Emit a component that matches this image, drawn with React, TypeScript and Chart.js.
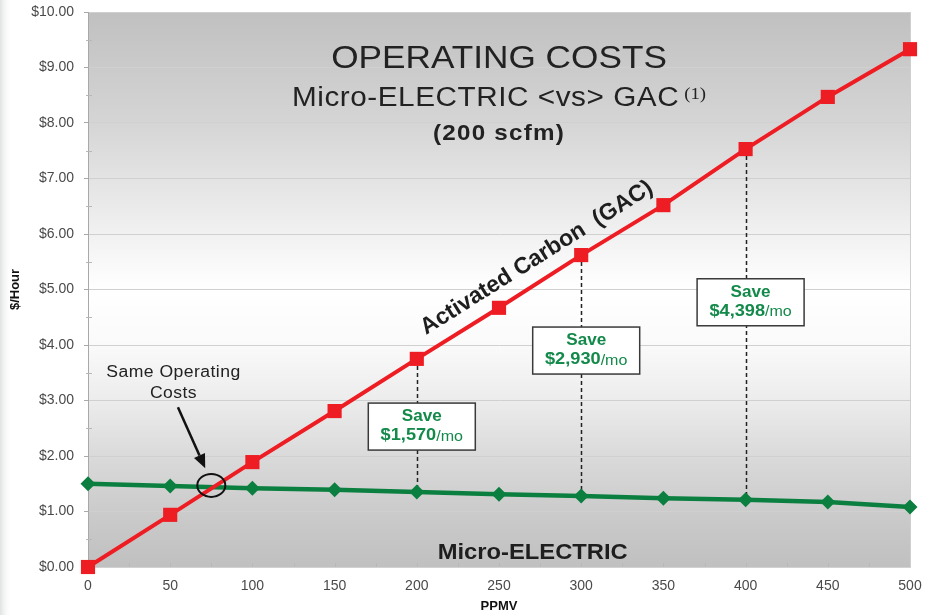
import { useEffect, useRef } from "react";
import { Chart, registerables } from "chart.js";

Chart.register(...registerables);

// ---- data ----
const ppmv = [0, 50, 100, 150, 200, 250, 300, 350, 400, 450, 500];
const gacCost = [0, 0.94, 1.89, 2.81, 3.75, 4.67, 5.62, 6.52, 7.53, 8.47, 9.33];
const microCost = [1.5, 1.46, 1.42, 1.39, 1.35, 1.31, 1.28, 1.24, 1.21, 1.17, 1.08];

const savePpmv = [200, 300, 400];
const saveAmounts = ["$1,570", "$2,930", "$4,398"];
const saveBoxLevels = [2.53, 3.9, 4.77];

const titleMain = "OPERATING COSTS";
const titleSub = "Micro-ELECTRIC <vs> GAC";
const titleNote = "(1)";
const titleFlow = "(200 scfm)";
const gacLabel = "Activated Carbon  (GAC)";
const microLabel = "Micro-ELECTRIC";
const sameLabel = ["Same Operating", "Costs"];
const yTitle = "$/Hour";
const xTitle = "PPMV";

// annotation anchors (data space)
const sameCostPoint = { x: 75, y: 1.47 };
const sameLabelAnchor = { x: 52, y: 3.51 };
const arrowFrom = { x: 54.7, y: 2.88 };
const arrowTo = { x: 71.3, y: 1.78 };
const gacLabelAnchor = { x: 273, y: 5.57 };
const microLabelAnchor = { x: 270.5, y: 0.25 };

const FONT = '"Liberation Sans", Arial, Helvetica, sans-serif';
const RED = "#ee1d23";
const GREEN = "#0b7f3f";
const TEXT_GREEN = "#13894a";
const STRETCH = 1.1;

function stretchedText(ctx: any, text: string, x: number, y: number, align: string, sx = STRETCH) {
  ctx.save();
  ctx.translate(x, y);
  ctx.scale(sx, 1);
  ctx.textAlign = align;
  ctx.fillText(text, 0, 0);
  ctx.restore();
}

const decorPlugin = {
  id: "decor",
  beforeDraw(chart: any) {
    const { ctx, chartArea: a, width, height } = chart;
    ctx.save();
    ctx.fillStyle = "#ffffff";
    ctx.fillRect(0, 0, width, height);
    const lg = ctx.createLinearGradient(0, 0, 12, 0);
    lg.addColorStop(0, "#e0e3e3");
    lg.addColorStop(1, "rgba(255,255,255,0)");
    ctx.fillStyle = lg;
    ctx.fillRect(0, 0, 12, height);
    const g = ctx.createLinearGradient(0, a.top, 0, a.bottom);
    g.addColorStop(0, "#c0c0c0");
    g.addColorStop(0.2, "#d5d5d5");
    g.addColorStop(0.3, "#e3e3e3");
    g.addColorStop(0.5, "#ffffff");
    g.addColorStop(0.6, "#fafafa");
    g.addColorStop(0.7, "#ececec");
    g.addColorStop(0.8, "#dadada");
    g.addColorStop(0.9, "#cbcbcb");
    g.addColorStop(1, "#c0c0c0");
    ctx.fillStyle = g;
    ctx.fillRect(a.left, a.top, a.right - a.left, a.bottom - a.top);
    ctx.restore();
  },
  beforeDatasetsDraw(chart: any) {
    const { ctx, chartArea: a, scales } = chart;
    const xs = scales.x;
    const ys = scales.y;
    const px = (v: number) => xs.getPixelForValue(v);
    const py = (v: number) => ys.getPixelForValue(v);
    ctx.save();

    // right border
    ctx.strokeStyle = "#cfcfcf";
    ctx.lineWidth = 1;
    ctx.beginPath();
    ctx.moveTo(a.right + 0.5, a.top);
    ctx.lineTo(a.right + 0.5, a.bottom);
    ctx.stroke();

    // minor ticks
    ctx.strokeStyle = "#b8b8b8";
    for (let v = 25; v < 500; v += 25) {
      const x = Math.round(px(v)) + 0.5;
      ctx.beginPath();
      ctx.moveTo(x, a.bottom - 4);
      ctx.lineTo(x, a.bottom);
      ctx.stroke();
    }
    for (let v = 0.5; v < 10; v += 1) {
      const y = Math.round(py(v)) + 0.5;
      ctx.beginPath();
      ctx.moveTo(a.left - 2, y);
      ctx.lineTo(a.left + 4, y);
      ctx.stroke();
    }

    // titles
    const cx = (a.left + a.right) / 2;
    ctx.fillStyle = "#222";
    ctx.textBaseline = "alphabetic";
    ctx.font = `32px ${FONT}`;
    stretchedText(ctx, titleMain, cx, a.top + 56, "center");

    (ctx as any).letterSpacing = "0.5px";
    ctx.font = `27px ${FONT}`;
    const w1 = ctx.measureText(titleSub).width * STRETCH;
    (ctx as any).letterSpacing = "0px";
    ctx.font = `17px "Liberation Serif", "Times New Roman", serif`;
    const w2 = ctx.measureText(titleNote).width * STRETCH;
    const gap = 5;
    const start = cx - (w1 + gap + w2) / 2;
    (ctx as any).letterSpacing = "0.5px";
    ctx.font = `27px ${FONT}`;
    stretchedText(ctx, titleSub, start, a.top + 94, "left");
    (ctx as any).letterSpacing = "0px";
    ctx.font = `17px "Liberation Serif", "Times New Roman", serif`;
    stretchedText(ctx, titleNote, start + w1 + gap, a.top + 87, "left");

    (ctx as any).letterSpacing = "1.1px";
    ctx.font = `bold 22px ${FONT}`;
    stretchedText(ctx, titleFlow, cx, a.top + 128, "center");
    (ctx as any).letterSpacing = "0px";

    // dashed drop lines
    ctx.strokeStyle = "#222";
    ctx.lineWidth = 1.5;
    ctx.setLineDash([4, 3]);
    savePpmv.forEach((v) => {
      const i = ppmv.indexOf(v);
      const x = Math.round(px(v)) + 0.5;
      ctx.beginPath();
      ctx.moveTo(x, py(gacCost[i]));
      ctx.lineTo(x, py(microCost[i]));
      ctx.stroke();
    });
    ctx.setLineDash([]);

    // savings boxes
    const bs = 1.07;
    savePpmv.forEach((v, k) => {
      const bx = px(v) + 5;
      const by = py(saveBoxLevels[k]);
      const bw = 107;
      const bh = 47;
      ctx.fillStyle = "#ffffff";
      ctx.fillRect(bx - bw / 2, by - bh / 2, bw, bh);
      ctx.strokeStyle = "#3a3a3a";
      ctx.lineWidth = 1.5;
      ctx.strokeRect(bx - bw / 2, by - bh / 2, bw, bh);
      ctx.fillStyle = TEXT_GREEN;
      ctx.textBaseline = "middle";
      ctx.font = `bold 16px ${FONT}`;
      stretchedText(ctx, "Save", bx, by - 10, "center", bs);
      ctx.font = `bold 17px ${FONT}`;
      const aw = ctx.measureText(saveAmounts[k]).width * bs;
      ctx.font = `15px ${FONT}`;
      const mw = ctx.measureText("/mo").width * bs;
      const sx = bx - (aw + mw) / 2;
      ctx.font = `bold 17px ${FONT}`;
      stretchedText(ctx, saveAmounts[k], sx, by + 9, "left", bs);
      ctx.font = `15px ${FONT}`;
      stretchedText(ctx, "/mo", sx + aw, by + 10, "left", bs);
    });

    // GAC rotated label
    const i0 = 0;
    const i1 = ppmv.length - 1;
    const ang = Math.atan2(
      py(gacCost[i1]) - py(gacCost[i0]),
      px(ppmv[i1]) - px(ppmv[i0])
    );
    ctx.save();
    ctx.translate(px(gacLabelAnchor.x), py(gacLabelAnchor.y));
    ctx.rotate(ang);
    ctx.fillStyle = "#1e1e1e";
    ctx.font = `bold 23px ${FONT}`;
    ctx.textAlign = "center";
    ctx.textBaseline = "middle";
    ctx.fillText(gacLabel, 0, 0);
    ctx.restore();

    // Micro-ELECTRIC label
    ctx.fillStyle = "#1e1e1e";
    ctx.font = `bold 22px ${FONT}`;
    ctx.textBaseline = "middle";
    stretchedText(ctx, microLabel, px(microLabelAnchor.x), py(microLabelAnchor.y), "center", 1.08);

    // same operating costs label
    ctx.fillStyle = "#222";
    ctx.font = `16px ${FONT}`;
    (ctx as any).letterSpacing = "0.4px";
    sameLabel.forEach((t, k) => {
      stretchedText(ctx, t, px(sameLabelAnchor.x), py(sameLabelAnchor.y) + k * 21, "center");
    });
    (ctx as any).letterSpacing = "0px";
    ctx.restore();
  },
  afterDatasetsDraw(chart: any) {
    const { ctx, scales } = chart;
    const px = (v: number) => scales.x.getPixelForValue(v);
    const py = (v: number) => scales.y.getPixelForValue(v);
    ctx.save();
    // ellipse
    ctx.strokeStyle = "#111";
    ctx.lineWidth = 2;
    ctx.beginPath();
    ctx.ellipse(px(sameCostPoint.x), py(sameCostPoint.y), 14, 11.5, 0, 0, Math.PI * 2);
    ctx.stroke();
    // arrow
    const x0 = px(arrowFrom.x);
    const y0 = py(arrowFrom.y);
    const x1 = px(arrowTo.x);
    const y1 = py(arrowTo.y);
    const ang = Math.atan2(y1 - y0, x1 - x0);
    const hl = 14;
    const hw = 6;
    const bxp = x1 - hl * Math.cos(ang);
    const byp = y1 - hl * Math.sin(ang);
    ctx.lineWidth = 2.5;
    ctx.beginPath();
    ctx.moveTo(x0, y0);
    ctx.lineTo(bxp, byp);
    ctx.stroke();
    ctx.fillStyle = "#111";
    ctx.beginPath();
    ctx.moveTo(x1, y1);
    ctx.lineTo(bxp + hw * Math.sin(ang), byp - hw * Math.cos(ang));
    ctx.lineTo(bxp - hw * Math.sin(ang), byp + hw * Math.cos(ang));
    ctx.closePath();
    ctx.fill();
    ctx.restore();
  },
};

export default function App() {
  const ref = useRef<HTMLCanvasElement | null>(null);
  useEffect(() => {
    if (!ref.current) return;
    const chart = new Chart(ref.current, {
      type: "line",
      data: {
        datasets: [
          {
            label: "Activated Carbon (GAC)",
            data: ppmv.map((x, i) => ({ x, y: gacCost[i] })),
            borderColor: RED,
            backgroundColor: RED,
            borderWidth: 4,
            pointStyle: "rect",
            pointRadius: 10,
            pointBorderWidth: 0,
            pointBackgroundColor: RED,
            clip: false,
          },
          {
            label: "Micro-ELECTRIC",
            data: ppmv.map((x, i) => ({ x, y: microCost[i] })),
            borderColor: GREEN,
            backgroundColor: GREEN,
            borderWidth: 4.5,
            pointStyle: "rectRot",
            pointRadius: 7.5,
            pointBorderWidth: 0,
            pointBackgroundColor: GREEN,
            clip: false,
          },
        ],
      },
      options: {
        responsive: false,
        animation: false,
        layout: { padding: { top: 12, right: 25, left: 0, bottom: 0 } },
        plugins: { legend: { display: false }, tooltip: { enabled: false } },
        scales: {
          x: {
            type: "linear",
            min: 0,
            max: 500,
            afterFit: (s: any) => {
              s.height = 48;
              s.paddingLeft = 0;
              s.paddingRight = 0;
            },
            ticks: {
              stepSize: 50,
              padding: 11,
              color: "#4a4a4a",
              font: { family: FONT, size: 14 },
            },
            grid: { drawOnChartArea: false, drawTicks: false },
            border: { color: "#d2d2d2" },
            title: {
              display: true,
              text: xTitle,
              color: "#111",
              font: { family: FONT, size: 13, weight: "bold" },
              padding: { top: 0, bottom: 1 },
            },
          },
          y: {
            min: 0,
            max: 10,
            afterFit: (s: any) => {
              s.width = 88;
              s.paddingTop = 0;
              s.paddingBottom = 0;
            },
            ticks: {
              stepSize: 1,
              padding: 10,
              color: "#4a4a4a",
              font: { family: FONT, size: 14 },
              callback: (v: any) => "$" + Number(v).toFixed(2),
            },
            grid: { color: "#d0d0d0", tickColor: "#aaaaaa", tickLength: 4 },
            border: { color: "#a8a8a8" },
            title: {
              display: true,
              text: yTitle,
              color: "#111",
              font: { family: FONT, size: 13, weight: "bold" },
              padding: { top: 8, bottom: 0 },
            },
          },
        },
      },
      plugins: [decorPlugin],
    } as any);
    return () => chart.destroy();
  }, []);
  return (
    <div style={{ position: "absolute", left: 0, top: 0, width: 935, height: 615 }}>
      <canvas ref={ref} width={935} height={615} style={{ display: "block" }} />
    </div>
  );
}
